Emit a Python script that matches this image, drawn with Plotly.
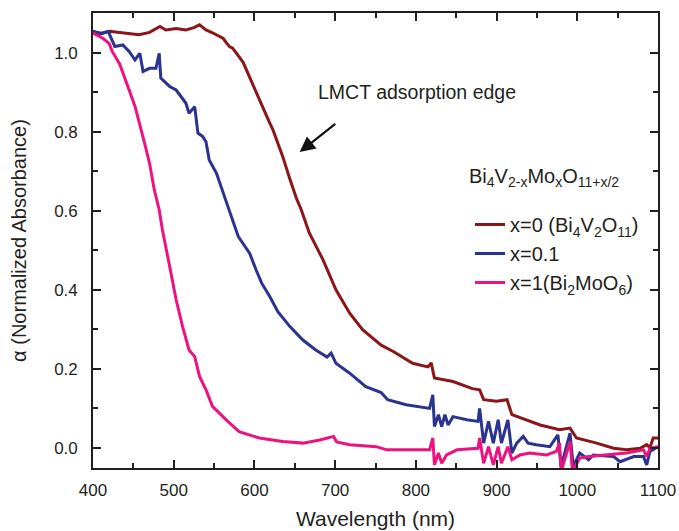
import plotly.graph_objects as go

# ---- data ----
wl_x0 = [400, 410, 420, 437, 457, 470, 483, 490, 503, 515, 525, 532, 540, 548, 561, 569, 573, 586, 598, 602,
         610, 619, 623, 635, 644, 652, 658, 668, 685, 701, 718, 734, 757, 772, 796, 815, 819, 823, 846, 870,
         879, 884, 900, 913, 919, 937, 954, 978, 991, 999, 1024, 1045, 1061, 1078, 1086, 1090, 1094, 1100]
abs_x0 = [1.054, 1.048, 1.055, 1.050, 1.046, 1.052, 1.067, 1.058, 1.062, 1.058, 1.064, 1.071, 1.058, 1.051, 1.037,
          1.016, 1.012, 0.976, 0.919, 0.898, 0.864, 0.822, 0.805, 0.738, 0.680, 0.632, 0.603, 0.544, 0.476, 0.400,
          0.341, 0.299, 0.260, 0.244, 0.214, 0.205, 0.215, 0.177, 0.168, 0.150, 0.147, 0.122, 0.118, 0.122, 0.084,
          0.071, 0.058, 0.046, 0.050, 0.025, 0.012, -0.001, -0.005, -0.001, 0.008, 0.000, 0.025, 0.025]

wl_x01 = [400, 410, 419, 427, 437, 445, 452, 458, 462, 470, 478, 482, 484, 495, 503, 515, 519, 526, 530, 536,
          540, 544, 553, 561, 569, 580, 594, 602, 609, 619, 629, 644, 660, 676, 690, 695, 701, 718, 738, 757,
          765, 788, 817, 821, 823, 828, 832, 836, 840, 846, 863, 877, 879, 884, 890, 896, 902, 906, 914, 919,
          925, 933, 939, 949, 966, 976, 980, 991, 995, 1003, 1014, 1020, 1045, 1053, 1070, 1082, 1086, 1090, 1100]
abs_x01 = [1.054, 1.050, 1.054, 1.016, 1.020, 1.003, 0.982, 0.999, 0.953, 0.961, 0.961, 0.999, 0.936, 0.915, 0.906,
           0.873, 0.847, 0.864, 0.797, 0.788, 0.775, 0.729, 0.695, 0.645, 0.600, 0.535, 0.493, 0.451, 0.417, 0.383,
           0.345, 0.307, 0.273, 0.248, 0.230, 0.240, 0.214, 0.189, 0.155, 0.140, 0.122, 0.109, 0.100, 0.134, 0.054,
           0.084, 0.054, 0.084, 0.058, 0.079, 0.071, 0.067, 0.100, 0.012, 0.067, 0.012, 0.071, 0.012, 0.071, -0.013,
           0.012, 0.029, 0.012, 0.008, 0.003, 0.033, -0.047, 0.037, -0.047, -0.013, -0.030, -0.018, -0.022, -0.035,
           -0.022, -0.022, -0.043, -0.009, 0.003]

wl_x1 = [400, 412, 420, 424, 433, 439, 445, 452, 458, 464, 470, 476, 482, 486, 495, 503, 511, 519, 526, 532,
         540, 548, 565, 581, 606, 635, 660, 681, 698, 702, 718, 751, 764, 797, 817, 821, 823, 828, 832, 838,
         851, 877, 879, 884, 890, 896, 902, 906, 914, 919, 929, 941, 962, 974, 978, 980, 991, 994, 1003, 1014,
         1037, 1061, 1082, 1086, 1090, 1100]
abs_x1 = [1.050, 1.037, 1.024, 1.003, 0.972, 0.940, 0.905, 0.865, 0.820, 0.771, 0.721, 0.653, 0.603, 0.552, 0.459,
          0.375, 0.307, 0.248, 0.231, 0.181, 0.147, 0.105, 0.071, 0.041, 0.025, 0.016, 0.012, 0.020, 0.029, 0.015,
          0.008, 0.003, -0.005, -0.005, -0.005, 0.025, -0.043, -0.013, -0.039, -0.018, -0.005, -0.001, 0.025, -0.039,
          0.003, -0.043, 0.003, -0.039, 0.003, -0.030, -0.018, -0.013, -0.018, -0.009, 0.012, -0.060, 0.016, -0.060,
          -0.026, -0.022, -0.018, -0.013, -0.005, -0.022, -0.001, 0.003]

series_names = ["x=0 (Bi<sub>4</sub>V<sub>2</sub>O<sub>11</sub>)", "x=0.1", "x=1(Bi<sub>2</sub>MoO<sub>6</sub>)"]
series_colors = ["#8B1519", "#2B3390", "#EC1380"]
legend_title = "Bi<sub>4</sub>V<sub>2-x</sub>Mo<sub>x</sub>O<sub>11+x/2</sub>"

x_ticks = [400, 500, 600, 700, 800, 900, 1000, 1100]
y_ticks = [0.0, 0.2, 0.4, 0.6, 0.8, 1.0]

FONT = "Liberation Sans, Arial, sans-serif"
TXT = "#231F20"

fig = go.Figure()
for xs, ys, name, col in zip([wl_x0, wl_x01, wl_x1], [abs_x0, abs_x01, abs_x1], series_names, series_colors):
    fig.add_trace(go.Scatter(x=xs, y=ys, mode="lines", name=name,
                             line=dict(color=col, width=3)))

axis_common = dict(showline=True, linecolor=TXT, linewidth=1.6, mirror="ticks",
                   ticks="inside", ticklen=8, tickwidth=1.6, tickcolor=TXT,
                   showgrid=False, zeroline=False, automargin=False,
                   tickfont=dict(family=FONT, size=17, color=TXT))

fig.update_xaxes(range=[400, 1100], tickvals=x_ticks, ticktext=[str(v) for v in x_ticks],
                 minor=dict(ticks="inside", ticklen=5, tickwidth=1.6, tickcolor=TXT, dtick=50, tick0=400),
                 title=dict(text="Wavelength (nm)", font=dict(family=FONT, size=21, color=TXT), standoff=12),
                 ticklabelstandoff=6, **axis_common)
fig.update_yaxes(range=[-0.051, 1.101], tickvals=y_ticks, ticktext=["%.1f" % v for v in y_ticks],
                 minor=dict(ticks="inside", ticklen=5, tickwidth=1.6, tickcolor=TXT, dtick=0.1, tick0=0),
                 title=dict(text="α (Normalized Absorbance)", font=dict(family=FONT, size=20, color=TXT), standoff=22),
                 ticklabelstandoff=10, **axis_common)

fig.add_annotation(x=801, y=0.901, xref="x", yref="y", text="LMCT adsorption edge", showarrow=False,
                   font=dict(family=FONT, size=19.5, color=TXT), xanchor="center", yanchor="middle")
fig.add_annotation(x=656, y=0.749, ax=702, ay=0.823, xref="x", yref="y", axref="x", ayref="y",
                   text="", showarrow=True, arrowhead=2, arrowsize=1.4, arrowwidth=2.2, arrowcolor="#111111")
# legend heading
fig.add_annotation(x=(467 - 93) / 565, y=(468 - 177) / 455, xref="paper", yref="paper", text=legend_title,
                   showarrow=False, xanchor="left", yanchor="middle",
                   font=dict(family=FONT, size=20, color=TXT))

fig.update_layout(
    width=679, height=531,
    margin=dict(l=93, r=21, t=13, b=63),
    paper_bgcolor="white", plot_bgcolor="white",
    font=dict(family=FONT, color=TXT),
    legend=dict(x=(470 - 93) / 565, y=(468 - 205) / 455, xanchor="left", yanchor="top",
                bgcolor="rgba(0,0,0,0)", font=dict(family=FONT, size=20, color=TXT),
                tracegroupgap=0),
    showlegend=True,
)

fig.write_html("out.html")
